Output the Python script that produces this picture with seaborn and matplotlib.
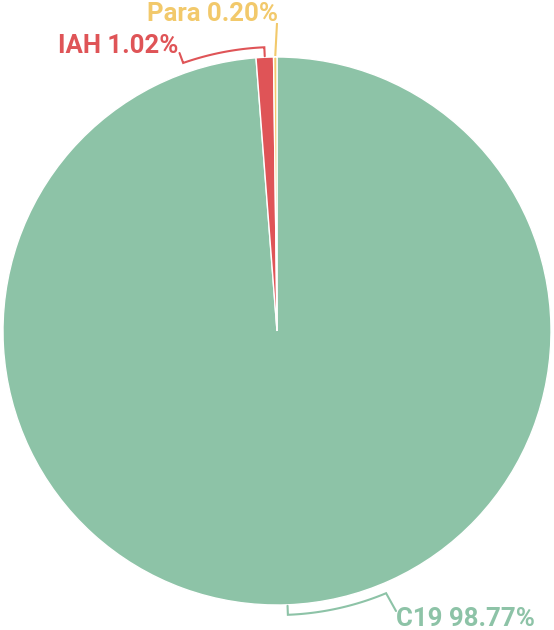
import numpy as np
import matplotlib
matplotlib.use("Agg")
import matplotlib.pyplot as plt
import seaborn as sns

labels = ["C19", "IAH", "Para"]
values = [98.77, 1.02, 0.20]
colors = ["#8dc3a7", "#df5457", "#f2c96b"]

sns.set_theme(style="white")
plt.rcParams["font.family"] = ["Roboto", "DejaVu Sans"]

W, H = 554, 630
fig = plt.figure(figsize=(W / 100, H / 100), dpi=100)
ax = fig.add_axes([0, 0, 1, 1])

cx, cy, R = 277, H - 331, 274
wedges, _ = ax.pie(values, colors=colors, startangle=90, counterclock=False,
                   center=(cx, cy), radius=R,
                   wedgeprops=dict(edgecolor="white", linewidth=1.0))
ax.set_xlim(0, W)
ax.set_ylim(0, H)
ax.set_aspect("equal")
ax.axis("off")

def pt(r, ang):
    a = np.deg2rad(ang)
    return cx + r * np.cos(a), cy + r * np.sin(a)

specs = {
    "C19": dict(end=(396, 611), text=(396, 626), ha="left", r_arc=284),
    "IAH": dict(end=(179.5, 53), text=(178, 53), ha="right", r_arc=284),
    "Para": dict(end=(277, 23), text=(278, 21), ha="right", r_arc=None),
}
arc_targets = {"C19": (386, 593), "IAH": (183, 62.5)}

for w, lab, val, col in zip(wedges, labels, values, colors):
    mid = (w.theta1 + w.theta2) / 2
    s = specs[lab]
    x0, y0 = pt(R + 1, mid)
    if s["r_arc"] is None:
        ex, ey = s["end"]
        ax.plot([x0, ex], [y0, H - ey], color=col, lw=1.5, solid_capstyle="butt")
    else:
        r2 = s["r_arc"]
        tx, ty = arc_targets[lab]
        ang2 = np.rad2deg(np.arctan2((H - ty) - cy, tx - cx))
        while ang2 - mid > 180:
            ang2 -= 360
        while mid - ang2 > 180:
            ang2 += 360
        angs = np.linspace(mid, ang2, 60)
        xs = [x0] + [pt(r2, a)[0] for a in angs]
        ys = [y0] + [pt(r2, a)[1] for a in angs]
        ex, ey = s["end"]
        xs.append(ex)
        ys.append(H - ey)
        ax.plot(xs, ys, color=col, lw=1.5, solid_joinstyle="miter")
    tx, ty = s["text"]
    ax.text(tx, H - ty, f"{lab} {val:.2f}%", color=col, fontsize=18.5,
            fontweight="bold", ha=s["ha"], va="baseline")

fig.savefig("out.png", dpi=100)
